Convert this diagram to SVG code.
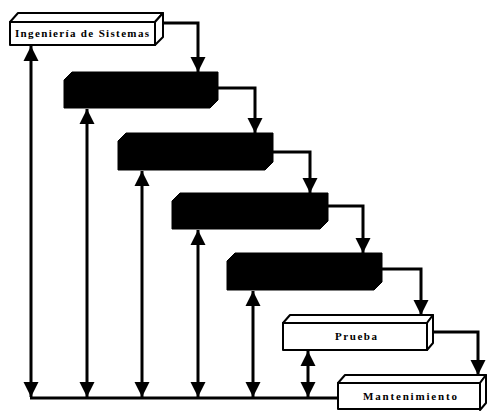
<svg xmlns="http://www.w3.org/2000/svg" width="487" height="411" viewBox="0 0 487 411">
<defs>
<marker id="ah" viewBox="0 0 10 10" refX="10" refY="5" markerWidth="5" markerHeight="5.3" markerUnits="strokeWidth" orient="auto-start-reverse">
<path d="M0,0 L10,5 L0,10 Z" fill="#000"/>
</marker>
<style>
.wbox{fill:#fff;stroke:#000;stroke-width:2;stroke-linejoin:round}
.bbox{fill:#000;stroke:#000;stroke-width:1}
.conn{fill:none;stroke:#000;stroke-width:3}
.arr{marker-end:url(#ah)}
.dbl{marker-start:url(#ah);marker-end:url(#ah)}
.lbl{font-family:"Liberation Serif",serif;font-weight:bold;font-size:11px;fill:#000;text-anchor:middle}
</style>
</defs>
<rect width="487" height="411" fill="#fff"/>
<g id="connectors">
<path class="conn arr" d="M163,23 H198 V72"/>
<path class="conn arr" d="M218,88 H255 V133"/>
<path class="conn arr" d="M273,152 H310 V193"/>
<path class="conn arr" d="M328,206 H363 V253"/>
<path class="conn arr" d="M382,269 H421 V315"/>
<path class="conn arr" d="M433,332 H478 V375"/>
<path class="conn" d="M30,398 H338"/>
<path class="conn dbl" d="M31,397 V46"/>
<path class="conn dbl" d="M87,397 V109"/>
<path class="conn dbl" d="M142,397 V171"/>
<path class="conn dbl" d="M198,397 V230"/>
<path class="conn dbl" d="M253,397 V291"/>
<path class="conn dbl" d="M308,397 V351"/>
</g>
<g id="n1">
<path class="wbox" d="M10,22 L18,13 H163 L155,22 Z"/>
<path class="wbox" d="M155,22 L163,13 V37 L155,45 Z"/>
<rect class="wbox" x="10" y="22" width="145" height="23"/>
<text class="lbl" x="82" y="37" textLength="134" lengthAdjust="spacing">Ingeniería de Sistemas</text>
</g>
<g id="n2">
<path class="bbox" d="M64,80 L72,72 H218 V100 L210,108 H64 Z"/>
</g>
<g id="n3">
<path class="bbox" d="M118,141 L126,133 H273 V162 L265,170 H118 Z"/>
</g>
<g id="n4">
<path class="bbox" d="M172,201 L180,193 H328 V221 L320,229 H172 Z"/>
</g>
<g id="n5">
<path class="bbox" d="M227,261 L235,253 H382 V282 L374,290 H227 Z"/>
</g>
<g id="n6">
<path class="wbox" d="M283,323 L290,315 H433 L427,323 Z"/>
<path class="wbox" d="M427,323 L433,315 V343 L427,350 Z"/>
<rect class="wbox" x="283" y="323" width="144" height="27"/>
<text class="lbl" x="356" y="340" textLength="42" lengthAdjust="spacing">Prueba</text>
</g>
<g id="n7">
<path class="wbox" d="M338,383 L345,375 H486 L480,383 Z"/>
<path class="wbox" d="M480,383 L486,375 V403 L480,410 Z"/>
<rect class="wbox" x="338" y="383" width="142" height="26"/>
<text class="lbl" x="410" y="400" textLength="94" lengthAdjust="spacing">Mantenimiento</text>
</g>
</svg>
